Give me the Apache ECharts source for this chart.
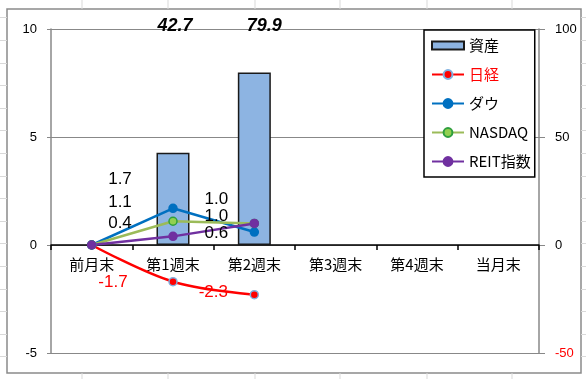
<!DOCTYPE html>
<html><head><meta charset="utf-8">
<script src="https://cdn.jsdelivr.net/npm/echarts@6/dist/echarts.min.js"></script>
<style>html,body{margin:0;padding:0;background:#fff}#c{width:586px;height:379px}</style>
</head><body><div id="c"></div>
<script>
// ---- data ----
const categories = ['前月末','第1週末','第2週末','第3週末','第4週末','当月末'];
const assets = [null, 42.7, 79.9, null, null, null];
const nikkei = [0, -1.7, -2.3, null, null, null];
const dow    = [0, 1.7, 0.6, null, null, null];
const nasdaq = [0, 1.1, 1.0, null, null, null];
const reit   = [0, 0.4, 1.0, null, null, null];
const leftTicks = {min: -5, max: 10, interval: 5};
const rightTicks = {min: -50, max: 100, interval: 50};

// ---- style (label offsets relative to the point) ----
const numFont = "'Liberation Sans', Arial, sans-serif";
const cjkFont = "'Noto Sans CJK JP', sans-serif";
const offs = {
  nikkei: [null, [-60, 1], [-41, -2]],
  dow:    [null, [-53, -29], [-38, 1]],
  nasdaq: [null, [-53, -19], [-38, -24]],
  reit:   [null, [-53, -13], [-38, -7]]
};
const barLabelDx = [0, 2, 10, 0, 0, 0];
const GRID = { left: 51, right: 47, top: 29, bottom: 26 };
const plotH = 379 - GRID.top - GRID.bottom;
// move the category axis up to the zero line of the left axis
const xAxisOffset = -plotH * (0 - leftTicks.min) / (leftTicks.max - leftTicks.min);

function lineData(vals, key, color) {
  return vals.map((v, i) => ({
    value: v,
    label: { show: v != null && i > 0, offset: offs[key][i] || [0, 0], color: color }
  }));
}
function lineSeries(name, vals, key, lineColor, fill, border, labelColor, smooth) {
  return {
    name, type: 'line', yAxisIndex: 0, z: 5,
    data: lineData(vals, key, labelColor),
    smooth: smooth || false,
    symbol: 'circle', symbolSize: 8, showSymbol: true,
    lineStyle: { color: lineColor, width: 2.5 },
    itemStyle: { color: fill, borderColor: border, borderWidth: 1.5 },
    label: { show: true, position: 'inside', fontSize: 17, fontFamily: numFont,
      formatter: p => p.value == null ? '' : Number(p.value).toFixed(1) },
    emphasis: { disabled: true }, animation: false
  };
}

// spreadsheet background lines outside chart frame
const sheet = [];
[82,168,255,340,427,512].forEach(x => {
  sheet.push({type:'line', shape:{x1:x,y1:0,x2:x,y2:9}, style:{stroke:'#d9d9d9', lineWidth:1}});
  sheet.push({type:'line', shape:{x1:x,y1:373,x2:x,y2:379}, style:{stroke:'#d9d9d9', lineWidth:1}});
});
for (let k = 0; k < 16; k++) {
  const y = Math.round(17.4 + 22.6 * k) + 0.5;
  sheet.push({type:'line', shape:{x1:0,y1:y,x2:7,y2:y}, style:{stroke:'#d9d9d9', lineWidth:1}});
  sheet.push({type:'line', shape:{x1:581,y1:y,x2:586,y2:y}, style:{stroke:'#d9d9d9', lineWidth:1}});
}
sheet.push({type:'rect', shape:{x:7,y:9,width:574,height:364}, style:{fill:null, stroke:'#8a8a8a', lineWidth:1.5}, z:-1});

const chart = echarts.init(document.getElementById('c'), null, {renderer: 'canvas'});
const option = {
  animation: false,
  backgroundColor: '#fff',
  graphic: sheet,
  grid: { left: GRID.left, right: GRID.right, top: GRID.top, bottom: GRID.bottom, containLabel: false },
  legend: {
    orient: 'vertical', left: 424, top: 30,
    padding: [8, 4, 8, 7], itemGap: 14, itemWidth: 32, itemHeight: 11,
    backgroundColor: '#fff', borderColor: '#000', borderWidth: 1.5,
    textStyle: { fontSize: 15, fontFamily: cjkFont, color: '#000' },
    data: [
      { name: '資産', icon: 'path://M0,0H32V8H0Z' },
      { name: '日経', textStyle: { color: '#ff0000' } },
      'ダウ', 'NASDAQ', 'REIT指数'
    ]
  },
  xAxis: {
    type: 'category', data: categories, boundaryGap: true, position: 'bottom',
    offset: xAxisOffset,
    axisLine: { show: true, onZero: false, lineStyle: { color: '#000', width: 1.5 } },
    axisTick: { show: true, inside: false, length: 5, alignWithLabel: false, lineStyle: { color: '#000', width: 1.5 } },
    axisLabel: { fontSize: 15, fontFamily: cjkFont, color: '#000', margin: 12 },
    splitLine: { show: false }
  },
  yAxis: [
    {
      type: 'value', position: 'left', min: leftTicks.min, max: leftTicks.max, interval: leftTicks.interval,
      axisLine: { show: true, lineStyle: { color: '#888', width: 1.5 } },
      axisTick: { show: true, length: 4, lineStyle: { color: '#888' } },
      axisLabel: { fontSize: 13, fontFamily: numFont, color: '#000', margin: 14 },
      splitLine: { show: true, lineStyle: { color: '#888', width: 1 } }
    },
    {
      type: 'value', position: 'right', min: rightTicks.min, max: rightTicks.max, interval: rightTicks.interval,
      axisLine: { show: true, lineStyle: { color: '#888', width: 1.5 } },
      axisTick: { show: true, length: 6, lineStyle: { color: '#888' } },
      axisLabel: { fontSize: 13, fontFamily: numFont, margin: 16,
        color: v => (Number(v) < 0 ? '#ff0000' : '#000') },
      splitLine: { show: false }
    }
  ],
  series: [
    {
      name: '資産', type: 'bar', yAxisIndex: 1, barWidth: 33, z: 2,
      data: assets.map(v => ({ value: v })),
      itemStyle: { color: '#8db4e2', borderColor: '#1a1a1a', borderWidth: 1.5 },
      label: { show: true, position: 'top', distance: 5, lineHeight: 20,
        fontSize: 18, fontStyle: 'italic', fontWeight: 'bold', fontFamily: numFont, color: '#000',
        formatter: p => p.value == null ? '' : Number(p.value).toFixed(1) },
      emphasis: { disabled: true }
    },
    lineSeries('日経', nikkei, 'nikkei', '#ff0000', '#ff0000', '#7fb0e0', '#ff0000', 0.35),
    lineSeries('ダウ', dow, 'dow', '#0070c0', '#0070c0', '#0070c0', '#000'),
    lineSeries('NASDAQ', nasdaq, 'nasdaq', '#9bbb59', '#92d050', '#2e9e3e', '#000'),
    lineSeries('REIT指数', reit, 'reit', '#7030a0', '#7030a0', '#7030a0', '#000')
  ]
};
chart.setOption(option);

// place bar value labels along the top of the plot area
const labelCenterY = 26;
const barData = assets.map((v, i) => {
  if (v == null) return { value: null };
  const py = chart.convertToPixel({ yAxisIndex: 1 }, v);
  return { value: v, label: { offset: [barLabelDx[i], labelCenterY - (py - 15)] } };
});
chart.setOption({ series: [{ name: '資産', data: barData }] });
</script>
</body></html>
